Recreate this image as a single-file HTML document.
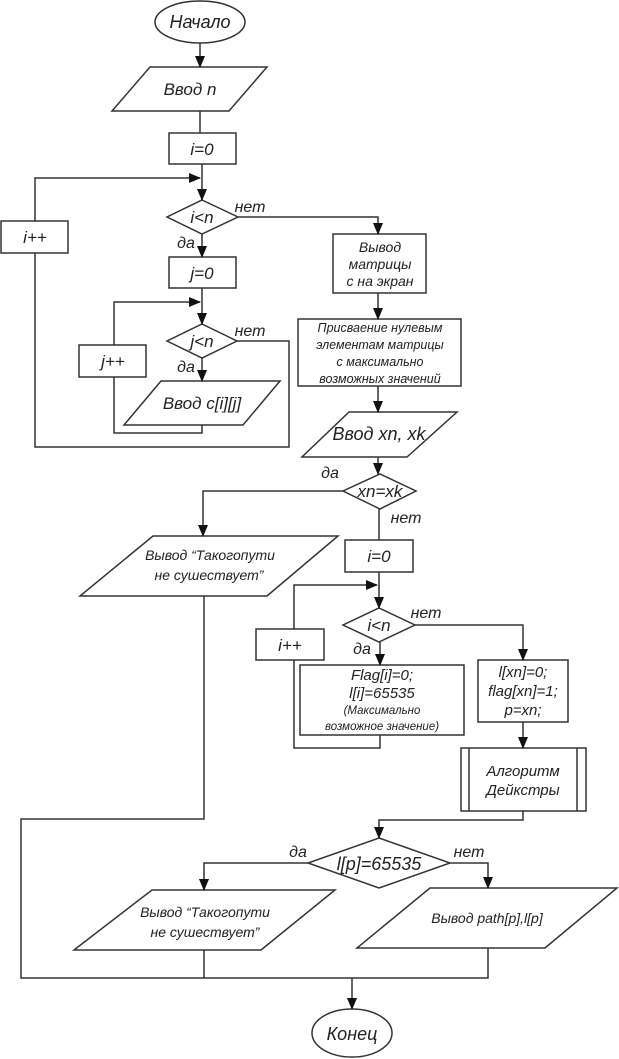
<!DOCTYPE html>
<html><head><meta charset="utf-8"><style>
html,body{margin:0;padding:0;background:#fff;}
svg{display:block;}
text{font-family:"Liberation Sans",sans-serif;font-style:italic;fill:#222;}
</style></head><body>
<svg width="619" height="1059" viewBox="0 0 619 1059" xmlns="http://www.w3.org/2000/svg">
<defs>
<marker id="a" markerWidth="12" markerHeight="10" refX="11" refY="5" orient="auto" markerUnits="userSpaceOnUse" viewBox="0 0 12 10"><path d="M0,0 L12,5 L0,10 z" fill="#111"/></marker>
<marker id="r" markerWidth="12" markerHeight="10" refX="11" refY="5" orient="auto" markerUnits="userSpaceOnUse" viewBox="0 0 12 10"><path d="M0,0 L12,5 L0,10 z" fill="#111"/></marker></defs>
<g fill="none" stroke="#333" stroke-width="1.5">
<ellipse cx="200" cy="22" rx="45" ry="21" fill="#fff"/>
<polygon points="150,67 267,67 229,111 112,111" fill="#fff"/>
<rect x="169" y="133" width="67" height="31"/>
<polygon points="202,200 238,217 202,234 167,217"/>
<rect x="1" y="221" width="67" height="32"/>
<rect x="169" y="257" width="67" height="31"/>
<polygon points="202,324 237,341 202,358 167,341"/>
<rect x="79" y="345" width="67" height="32"/>
<polygon points="161,381 280,381 243,425 124,425"/>
<rect x="333" y="234" width="93" height="59"/>
<rect x="298" y="319" width="163" height="67"/>
<polygon points="349,412 457,412 407,457 302,457"/>
<polygon points="380,474 416,491 380,509 343,491"/>
<polygon points="153,536 338,536 267,596 80,596"/>
<rect x="345" y="540" width="68" height="32"/>
<polygon points="379,608 415,625 379,642 343,625"/>
<rect x="256" y="629" width="68" height="31"/>
<rect x="300" y="665" width="164" height="70"/>
<rect x="478" y="660" width="90" height="62"/>
<rect x="461" y="748" width="125" height="63"/>
<line x1="469" y1="748" x2="469" y2="811"/><line x1="577" y1="748" x2="577" y2="811"/>
<polygon points="379,838 450,863 379,888 308,863"/>
<polygon points="152,890 335,890 261,950 74,950"/>
<polygon points="430,888 617,888 545,948 357,948"/>
<ellipse cx="352" cy="1033" rx="40" ry="24"/>
<line x1="200" y1="43" x2="200" y2="67" marker-end="url(#a)"/>
<line x1="200" y1="111" x2="200" y2="133"/>
<line x1="202" y1="164" x2="202" y2="200" marker-end="url(#a)"/>
<polyline points="35,221 35,178 200,178" marker-end="url(#r)"/>
<polyline points="238,217 378,217 378,234" marker-end="url(#a)"/>
<line x1="202" y1="234" x2="202" y2="257" marker-end="url(#a)"/>
<line x1="202" y1="288" x2="202" y2="324" marker-end="url(#a)"/>
<polyline points="114,345 114,302 200,302" marker-end="url(#r)"/>
<line x1="202" y1="358" x2="202" y2="381" marker-end="url(#a)"/>
<polyline points="202,425 202,433 114,433 114,377"/>
<polyline points="237,341 289,341 289,447 35,447 35,253"/>
<line x1="378" y1="293" x2="378" y2="319" marker-end="url(#a)"/>
<line x1="378" y1="386" x2="378" y2="412" marker-end="url(#a)"/>
<line x1="378" y1="457" x2="378" y2="474" marker-end="url(#a)"/>
<polyline points="343,491 203,491 203,536" marker-end="url(#a)"/>
<line x1="379" y1="509" x2="379" y2="540"/>
<line x1="379" y1="572" x2="379" y2="608" marker-end="url(#a)"/>
<polyline points="294,629 294,585 377,585" marker-end="url(#r)"/>
<line x1="380" y1="642" x2="380" y2="665" marker-end="url(#a)"/>
<polyline points="380,735 380,748 294,748 294,660"/>
<polyline points="415,625 523,625 523,660" marker-end="url(#a)"/>
<line x1="523" y1="722" x2="523" y2="748" marker-end="url(#a)"/>
<polyline points="523,811 523,820 379,820 379,838" marker-end="url(#a)"/>
<polyline points="308,863 204,863 204,890" marker-end="url(#a)"/>
<polyline points="450,863 488,863 488,888" marker-end="url(#a)"/>
<polyline points="204,596 204,819 21,819 21,978 488,978 488,948"/>
<line x1="204" y1="950" x2="204" y2="978"/>
<line x1="352" y1="978" x2="352" y2="1009" marker-end="url(#a)"/>
</g>
<g font-size="17" text-anchor="middle">
<text x="200" y="28" font-size="18">Начало</text>
<text x="190" y="95">Ввод n</text>
<text x="202" y="155">i=0</text>
<text x="202" y="223">i&lt;n</text>
<text x="35" y="243">i++</text>
<text x="202" y="279">j=0</text>
<text x="202" y="347">j&lt;n</text>
<text x="113" y="367">j++</text>
<text x="202" y="409">Ввод c[i][j]</text>
<text x="250" y="212" font-size="16">нет</text>
<text x="186" y="248" font-size="16">да</text>
<text x="250" y="336" font-size="16">нет</text>
<text x="186" y="372" font-size="16">да</text>
<text x="380" y="252" font-size="14">Вывод</text>
<text x="380" y="269" font-size="14">матрицы</text>
<text x="380" y="286" font-size="14">с на экран</text>
<text x="380" y="332" font-size="12.5">Присваение нулевым</text>
<text x="380" y="349" font-size="12.5">элементам матрицы</text>
<text x="380" y="366" font-size="12.5">с максимально</text>
<text x="380" y="383" font-size="12.5">возможных значений</text>
<text x="379" y="440" font-size="18">Ввод xn, xk</text>
<text x="380" y="497">xn=xk</text>
<text x="330" y="478" font-size="16">да</text>
<text x="406" y="523" font-size="16">нет</text>
<text x="210" y="560" font-size="14">Вывод “Такогопути</text>
<text x="209" y="580" font-size="14">не сушествует”</text>
<text x="379" y="562">i=0</text>
<text x="379" y="631">i&lt;n</text>
<text x="426" y="618" font-size="16">нет</text>
<text x="362" y="654" font-size="16">да</text>
<text x="290" y="651">i++</text>
<text x="382" y="680" font-size="15">Flag[i]=0;</text>
<text x="382" y="698" font-size="15">l[i]=65535</text>
<text x="382" y="714" font-size="11.5">(Максимально</text>
<text x="382" y="730" font-size="11.5">возможное значение)</text>
<text x="523" y="677" font-size="15">l[xn]=0;</text>
<text x="523" y="696" font-size="15">flag[xn]=1;</text>
<text x="523" y="715" font-size="15">p=xn;</text>
<text x="523" y="776" font-size="15">Алгоритм</text>
<text x="523" y="795" font-size="15">Дейкстры</text>
<text x="379" y="870" font-size="18">l[p]=65535</text>
<text x="298" y="857" font-size="16">да</text>
<text x="469" y="857" font-size="16">нет</text>
<text x="205" y="917" font-size="14">Вывод “Такогопути</text>
<text x="205" y="937" font-size="14">не сушествует”</text>
<text x="487" y="923" font-size="14">Вывод path[p],l[p]</text>
<text x="352" y="1040" font-size="18">Конец</text>
</g>
</svg>
</body></html>
